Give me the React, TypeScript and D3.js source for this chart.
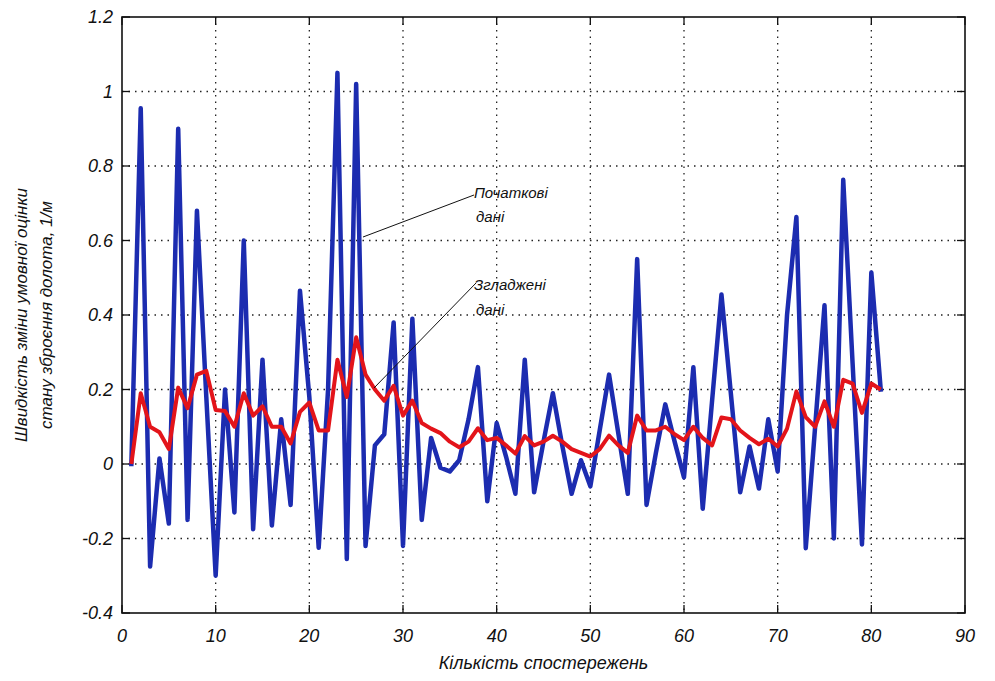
import React from "react";
import * as d3 from "d3";

const xTicks = [0, 10, 20, 30, 40, 50, 60, 70, 80, 90];
const yTicks = [-0.4, -0.2, 0, 0.2, 0.4, 0.6, 0.8, 1, 1.2];
const yTickLabels = ["-0.4", "-0.2", "0", "0.2", "0.4", "0.6", "0.8", "1", "1.2"];

const rawValues = [
  0, 0.955, -0.275, 0.015, -0.16, 0.9, -0.15, 0.68, 0.18, -0.3,
  0.2, -0.13, 0.6, -0.175, 0.28, -0.165, 0.12, -0.11, 0.465, 0.18,
  -0.225, 0.2, 1.05, -0.255, 1.02, -0.22, 0.05, 0.08, 0.38, -0.22,
  0.39, -0.15, 0.07, -0.01, -0.02, 0.01, 0.12, 0.26, -0.1, 0.11,
  0.02, -0.08, 0.28, -0.076, 0.06, 0.19, 0.05, -0.08, 0.01, -0.06,
  0.09, 0.24, 0.08, -0.08, 0.55, -0.11, 0.03, 0.16, 0.06, -0.036,
  0.26, -0.12, 0.17, 0.455, 0.19, -0.076, 0.047, -0.066, 0.12, -0.02,
  0.4, 0.663, -0.226, 0.1, 0.426, -0.2, 0.763, 0.27, -0.216, 0.514,
  0.2,
];

const smoothValues = [
  0, 0.19, 0.1, 0.085, 0.04, 0.205, 0.15, 0.24, 0.25, 0.145,
  0.142, 0.1, 0.19, 0.13, 0.155, 0.1, 0.1, 0.055, 0.14, 0.165,
  0.09, 0.09, 0.28, 0.18, 0.34, 0.24, 0.2, 0.17, 0.21, 0.13,
  0.17, 0.11, 0.095, 0.083, 0.06, 0.045, 0.06, 0.096, 0.064, 0.07,
  0.05, 0.028, 0.075, 0.05, 0.06, 0.076, 0.06, 0.04, 0.03, 0.02,
  0.04, 0.076, 0.05, 0.03, 0.13, 0.09, 0.09, 0.1, 0.08, 0.064,
  0.1, 0.07, 0.05, 0.125, 0.12, 0.09, 0.07, 0.053, 0.068, 0.047,
  0.095, 0.195, 0.126, 0.1, 0.168, 0.1, 0.226, 0.216, 0.137, 0.216,
  0.2,
];

const xTitle = "Кількість спостережень";
const yTitleLines = ["Швидкість зміни умовної оцінки", "стану зброєння долота, 1/м"];
const note1 = ["Початкові", "дані"];
const note2 = ["Згладжені", "дані"];

const W = 995;
const H = 681;
const L = 122, R = 965, T = 17, B = 613;

export default function App() {
  const x = d3.scaleLinear().domain([0, 90]).range([L, R]);
  const y = d3.scaleLinear().domain([-0.4, 1.2]).range([B, T]);
  const line = d3
    .line<number>()
    .x((_, i) => x(i + 1))
    .y((d) => y(d));
  const font = "'Liberation Sans', Arial, sans-serif";

  return (
    <svg
      width={W}
      height={H}
      style={{ position: "absolute", left: 0, top: 0, background: "#fff" }}
      fontFamily={font}
    >
      <rect x={0} y={0} width={W} height={H} fill="#fff" />
      {/* grid */}
      {xTicks.slice(1, -1).map((t) => (
        <line key={"gx" + t} x1={x(t)} x2={x(t)} y1={T} y2={B} stroke="#222" strokeWidth={1.3} strokeDasharray="1.5,5" />
      ))}
      {yTicks.slice(1, -1).map((t) => (
        <line key={"gy" + t} x1={L} x2={R} y1={y(t)} y2={y(t)} stroke="#222" strokeWidth={1.3} strokeDasharray="1.5,5" />
      ))}
      {/* ticks */}
      {xTicks.map((t) => (
        <g key={"tx" + t}>
          <line x1={x(t)} x2={x(t)} y1={B} y2={B - 8} stroke="#111" strokeWidth={1.3} />
          <line x1={x(t)} x2={x(t)} y1={T} y2={T + 8} stroke="#111" strokeWidth={1.3} />
          <text x={x(t)} y={642} fontSize={18} fontStyle="italic" textAnchor="middle" fill="#111">
            {t}
          </text>
        </g>
      ))}
      {yTicks.map((t, i) => (
        <g key={"ty" + t}>
          <line x1={L} x2={L + 8} y1={y(t)} y2={y(t)} stroke="#111" strokeWidth={1.3} />
          <line x1={R} x2={R - 8} y1={y(t)} y2={y(t)} stroke="#111" strokeWidth={1.3} />
          <text x={113} y={y(t) + 6} fontSize={18} fontStyle="italic" textAnchor="end" fill="#111">
            {yTickLabels[i]}
          </text>
        </g>
      ))}
      {/* data */}
      <path d={line(rawValues) || ""} fill="none" stroke="#1c2cb0" strokeWidth={4.5} strokeLinejoin="round" strokeLinecap="square" />
      <path d={line(smoothValues) || ""} fill="none" stroke="#e3141a" strokeWidth={4} strokeLinejoin="round" />
      {/* frame */}
      <rect x={L} y={T} width={R - L} height={B - T} fill="none" stroke="#111" strokeWidth={1.6} />
      {/* annotations */}
      <line x1={363} y1={237} x2={474} y2={195} stroke="#111" strokeWidth={1} />
      <line x1={374} y1={388} x2={476} y2={283} stroke="#111" strokeWidth={1} />
      <text x={474} y={198} fontSize={15} fontStyle="italic" fill="#111">{note1[0]}</text>
      <text x={476} y={222} fontSize={15} fontStyle="italic" fill="#111">{note1[1]}</text>
      <text x={474} y={290} fontSize={15} fontStyle="italic" fill="#111">{note2[0]}</text>
      <text x={476} y={315} fontSize={15} fontStyle="italic" fill="#111">{note2[1]}</text>
      {/* titles */}
      <text x={(L + R) / 2} y={669} fontSize={18} fontStyle="italic" textAnchor="middle" fill="#111">
        {xTitle}
      </text>
      <text transform={`translate(27,315) rotate(-90)`} fontSize={17} fontStyle="italic" textAnchor="middle" fill="#111">
        {yTitleLines[0]}
      </text>
      <text transform={`translate(52,315) rotate(-90)`} fontSize={17} fontStyle="italic" textAnchor="middle" fill="#111">
        {yTitleLines[1]}
      </text>
    </svg>
  );
}
